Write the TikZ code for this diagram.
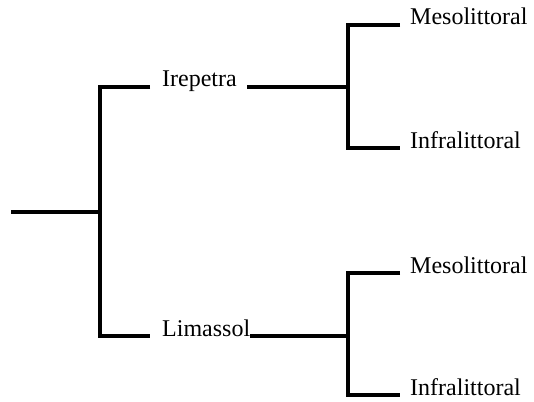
\documentclass[tikz,border=0pt]{standalone}
\usepackage{fontspec}
\setmainfont{Liberation Serif}
\begin{document}
\begin{tikzpicture}[x=1pt,y=-1pt,
  branch/.style={line width=3.3pt, line join=miter},
  lbl/.style={anchor=base west, inner sep=0pt, font=\fontsize{24}{28}\selectfont}]
\useasboundingbox (0,0) rectangle (534,401);
\coordinate (r0) at (11,212);
\coordinate (j0) at (100,212);
\node[lbl] (ir) at (162,87) {Irepetra};
\node[lbl] (li) at (162,336) {Limassol};
\coordinate (j1) at (348,87);
\coordinate (j2) at (348,336);
\node[lbl] (m1) at (410,25) {Mesolittoral};
\node[lbl] (i1) at (410,148) {Infralittoral};
\node[lbl] (m2) at (410,273) {Mesolittoral};
\node[lbl] (i2) at (410,395) {Infralittoral};
\draw[branch] (r0) -- (j0);
\draw[branch] ([xshift=-12pt]ir.base west) -| (j0) |- ([xshift=-12pt]li.base west);
\draw[branch] ([xshift=10pt]ir.base east) -- (j1);
\draw[branch] ([xshift=-10pt]m1.base west) -| (j1) |- ([xshift=-10pt]i1.base west);
\draw[branch] (li.base east) -- (j2);
\draw[branch] ([xshift=-10pt]m2.base west) -| (j2) |- ([xshift=-10pt]i2.base west);
\end{tikzpicture}
\end{document}
